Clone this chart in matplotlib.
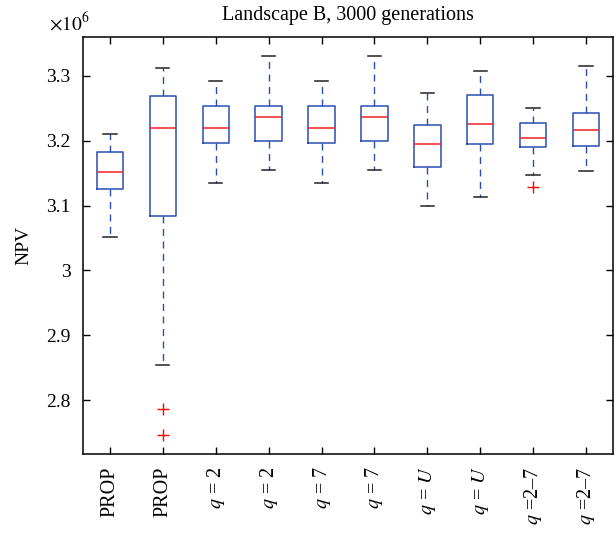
import numpy as np
import matplotlib
matplotlib.use("Agg")
import matplotlib.pyplot as plt

# box statistics (units of 1e6)
labels = ["PROP", "PROP", "$q$ = 2", "$q$ = 2", "$q$ = 7", "$q$ = 7",
          "$q$ = $U$", "$q$ = $U$", "$q$ =2\u20137", "$q$ =2\u20137"]
whislo = [3.052, 2.855, 3.135, 3.155, 3.135, 3.155, 3.099, 3.114, 3.147, 3.154]
q1 = [3.125, 3.084, 3.197, 3.199, 3.197, 3.199, 3.160, 3.195, 3.191, 3.192]
med = [3.152, 3.220, 3.220, 3.237, 3.220, 3.237, 3.195, 3.226, 3.205, 3.217]
q3 = [3.183, 3.269, 3.253, 3.254, 3.253, 3.254, 3.224, 3.270, 3.227, 3.243]
whishi = [3.211, 3.312, 3.292, 3.330, 3.292, 3.330, 3.273, 3.307, 3.250, 3.315]
fliers = [[], [2.787, 2.746], [], [], [], [], [], [], [3.128], []]

plt.rcParams['font.family'] = ['Liberation Serif', 'DejaVu Serif']
plt.rcParams['mathtext.fontset'] = 'stix'

fig = plt.figure(figsize=(6.16, 5.34), dpi=100)
ax = fig.add_axes([0.1347, 0.1498, 0.8604, 0.7809])

stats = []
for i in range(len(labels)):
    stats.append(dict(med=med[i], q1=q1[i], q3=q3[i], whislo=whislo[i],
                      whishi=whishi[i], fliers=np.array(fliers[i]), label=labels[i]))

blue = '#2a4db0'
ax.bxp(stats, positions=np.arange(1, 11), widths=0.5,
       boxprops=dict(color=blue, linewidth=1.1),
       medianprops=dict(color='#ee2222', linewidth=1.1),
       whiskerprops=dict(color=blue, linewidth=1.0, linestyle=(0, (5, 4))),
       capprops=dict(color='#222222', linewidth=1.1),
       flierprops=dict(marker='+', markeredgecolor='red', markersize=8, linestyle='none'),
       capwidths=0.25)

ax.set_xlim(0.49, 10.51)
ax.set_ylim(2.717, 3.36)
ax.set_yticks([2.8, 2.9, 3.0, 3.1, 3.2, 3.3])
ax.set_yticklabels(["2.8", "2.9", "3", "3.1", "3.2", "3.3"], fontsize=14)
ax.set_xticks(np.arange(1, 11))
ax.set_xticklabels(labels, rotation=90, fontsize=14.5)
ax.tick_params(direction='in', top=True, right=True, length=5, width=1, pad=9)
for s in ax.spines.values():
    s.set_linewidth(1.1)

ax.set_ylabel("NPV", fontsize=14, labelpad=10)
ax.set_title("Landscape B, 3000 generations", fontsize=14.5, pad=12)
fig.text(0.08, 0.944, r"$\times10^6$", fontsize=14)

fig.savefig("out.png", dpi=100)
